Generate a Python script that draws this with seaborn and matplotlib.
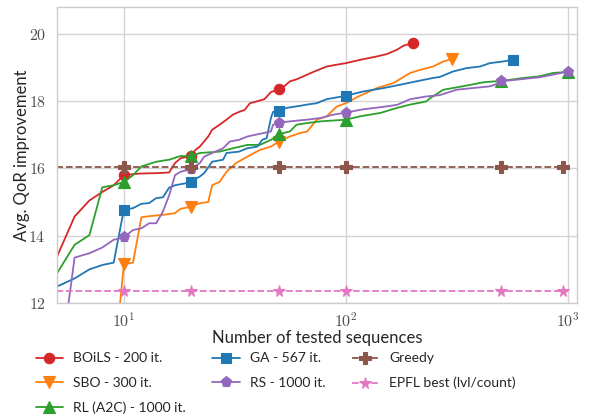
import math
import matplotlib
matplotlib.use("Agg")
import matplotlib.pyplot as plt
import matplotlib.ticker as mticker
import seaborn as sns
import pandas as pd

# ---------------- data ----------------
boils_x = [5, 6, 7, 8, 9, 10, 11, 12, 14, 16, 17, 18, 20, 21, 22, 24, 25, 27, 29, 31, 33, 35, 37, 40, 43, 46, 50,
           53, 56, 60, 67, 72, 82, 90, 100, 116, 138, 153, 170, 182, 200]
boils_y = [13.38, 14.57, 15.05, 15.3, 15.5, 15.8, 15.83, 15.85, 15.86, 15.88, 16.16, 16.3, 16.38, 16.55, 16.65, 16.95,
           17.15, 17.3, 17.45, 17.6, 17.68, 17.74, 17.94, 18.0, 18.06, 18.27, 18.36, 18.45, 18.59, 18.65, 18.79, 18.88,
           19.03, 19.08, 19.13, 19.23, 19.33, 19.4, 19.53, 19.65, 19.73]
boils_marks = [10, 20, 50, 200]

sbo_x = [9, 10, 11, 12, 13, 15, 17, 18, 19, 20, 22, 24, 25, 27, 29, 32, 36, 41, 46, 50, 56, 62, 67, 74, 82, 91, 100,
         114, 138, 164, 195, 216, 247, 275, 300]
sbo_y = [10.0, 13.15, 13.2, 14.55, 14.58, 14.62, 14.67, 14.8, 14.83, 14.86, 14.97, 15.0, 15.5, 15.6, 15.9, 16.16, 16.35,
         16.55, 16.65, 16.8, 16.95, 17.05, 17.1, 17.45, 17.55, 17.84, 17.94, 18.14, 18.39, 18.54, 18.84, 18.93, 19.03,
         19.18, 19.25]
sbo_marks = [10, 20, 50, 300]

rl_x = [5, 6, 7, 8, 9, 10, 11, 12, 14, 16, 18, 20, 22, 27, 31, 36, 41, 46, 50, 56, 60, 67, 77, 100, 116, 143, 170, 195,
        230, 240, 275, 315, 367, 415, 470, 500, 630, 745, 860, 1000]
rl_y = [12.88, 13.73, 14.02, 15.44, 15.5, 15.6, 15.8, 16.06, 16.2, 16.26, 16.37, 16.36, 16.46, 16.5, 16.6, 16.7, 16.7,
        16.85, 17.02, 17.1, 17.3, 17.35, 17.4, 17.45, 17.55, 17.65, 17.8, 17.9, 17.99, 18.09, 18.34, 18.41, 18.49, 18.56,
        18.59, 18.6, 18.69, 18.74, 18.84, 18.87]
rl_marks = [10, 20, 50, 100, 500, 1000]

ga_x = [5, 6, 7, 8, 9, 10, 11, 12, 13, 14, 15, 16, 17, 19, 20, 22, 23, 25, 28, 29, 33, 36, 40, 42, 44, 46, 47, 50, 54,
        62, 67, 74, 82, 100, 120, 148, 176, 208, 247, 265, 303, 348, 402, 445, 510, 567]
ga_y = [12.49, 12.73, 13.0, 13.13, 13.2, 14.77, 14.82, 14.95, 14.97, 15.12, 15.14, 15.43, 15.5, 15.56, 15.61, 15.76,
        15.86, 16.2, 16.26, 16.46, 16.5, 16.6, 16.65, 16.85, 16.9, 17.5, 17.68, 17.71, 17.8, 17.86, 17.9, 17.94, 18.06,
        18.16, 18.29, 18.39, 18.49, 18.59, 18.69, 18.72, 18.88, 18.98, 19.03, 19.13, 19.18, 19.23]
ga_marks = [10, 20, 50, 100, 567]

rs_x = [5, 6, 7, 8, 9, 10, 11, 12, 13, 14, 15, 16, 17, 18, 20, 22, 23, 25, 28, 30, 33, 36, 41, 46, 47, 50, 56, 62, 67,
        77, 88, 100, 120, 143, 170, 195, 230, 265, 315, 373, 445, 470, 500, 630, 745, 860, 1000]
rs_y = [9.4, 13.35, 13.48, 13.65, 13.88, 13.95, 14.17, 14.22, 14.37, 14.37, 14.72, 15.2, 15.8, 15.9, 15.98, 16.16,
        16.35, 16.46, 16.6, 16.8, 16.85, 16.95, 17.03, 17.1, 17.3, 17.36, 17.4, 17.43, 17.45, 17.5, 17.6, 17.66, 17.76,
        17.82, 17.89, 18.06, 18.14, 18.18, 18.34, 18.39, 18.44, 18.49, 18.59, 18.66, 18.71, 18.79, 18.88]
rs_marks = [10, 20, 50, 100, 500, 1000]

greedy_x = [1, 10, 20, 50, 100, 500, 950, 1000]
greedy_y = [16.05, 16.05, 16.05, 16.05, 16.05, 16.05, 16.05, 16.05]
greedy_marks = [10, 20, 50, 100, 500, 950]

epfl_x = [1, 10, 20, 50, 100, 500, 950, 1000]
epfl_y = [12.35, 12.35, 12.35, 12.35, 12.35, 12.35, 12.35, 12.35]
epfl_marks = [10, 20, 50, 100, 500, 950]

x_ticks = [10, 100, 1000]
y_ticks = [12, 14, 16, 18, 20]

# ---------------- style ----------------
sns.set_theme(style="whitegrid")
plt.rcParams["font.family"] = ["Lato", "DejaVu Sans"]
plt.rcParams["mathtext.fontset"] = "cm"

fig = plt.figure(figsize=(6.05, 4.16), dpi=100)
ax = fig.add_axes([57 / 605, 1 - 303 / 416, 520 / 605, 296 / 416])

series = [
    ("BOiLS - 200 it.", boils_x, boils_y, boils_marks, "#d62728", "o", "-", 7.5),
    ("SBO - 300 it.", sbo_x, sbo_y, sbo_marks, "#ff7f0e", "v", "-", 8),
    ("RL (A2C) - 1000 it.", rl_x, rl_y, rl_marks, "#2ca02c", "^", "-", 8),
    ("GA - 567 it.", ga_x, ga_y, ga_marks, "#1f77b4", "s", "-", 7.5),
    ("RS - 1000 it.", rs_x, rs_y, rs_marks, "#9467bd", "p", "-", 8),
    ("Greedy", greedy_x, greedy_y, greedy_marks, "#8c564b", "P", "--", 8),
    ("EPFL best (lvl/count)", epfl_x, epfl_y, epfl_marks, "#e377c2", "*", "--", 8.5),
]

for label, xs, ys, marks, color, mk, ls, ms in series:
    df = pd.DataFrame({"x": xs, "y": ys})
    idx = [i for i, v in enumerate(xs) if v in marks]
    sns.lineplot(data=df, x="x", y="y", ax=ax, color=color, marker=mk, markersize=ms,
                 markevery=idx, linestyle=ls, linewidth=1.3, label=label,
                 estimator=None, sort=False, markeredgewidth=0.8, markeredgecolor=color)

ax.set_xscale("log")
ax.set_xlim(5, 1100)
ax.set_ylim(12, 20.8)
ax.set_xticks(x_ticks)
ax.set_yticks(y_ticks)
ax.xaxis.set_minor_locator(mticker.NullLocator())
ax.xaxis.set_major_formatter(mticker.FuncFormatter(lambda v, p: r"$10^{%d}$" % round(math.log10(v))))
ax.yaxis.set_major_formatter(mticker.FuncFormatter(lambda v, p: r"$%d$" % v))
ax.tick_params(axis="both", labelsize=11.5, colors="0.35", labelcolor="0.3")
ax.tick_params(axis="x", pad=0)
ax.tick_params(axis="y", pad=2)
ax.grid(True, color="0.83", linewidth=1.0)
for s in ax.spines.values():
    s.set_color("0.8")
    s.set_linewidth(1.0)

ax.set_xlabel("Number of tested sequences", fontsize=12, color="0.15", labelpad=0)
ax.set_ylabel("Avg. QoR improvement", fontsize=12, color="0.15", labelpad=-1)

handles, labels = ax.get_legend_handles_labels()
ax.legend(handles, labels, ncol=3, loc="upper left", bbox_to_anchor=(-0.052, -0.148),
          frameon=False, fontsize=10, handlelength=2.0, columnspacing=1.9, labelspacing=0.9,
          handletextpad=0.7, borderaxespad=0)

fig.savefig("out.png", dpi=100)
